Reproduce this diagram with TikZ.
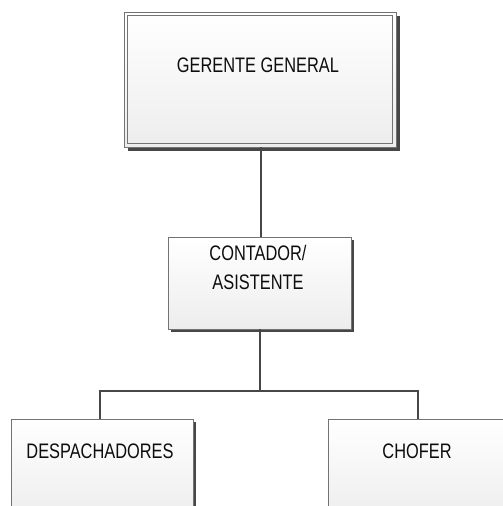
\documentclass[tikz,border=0pt]{standalone}
\usepackage{fontspec}
\setmainfont{Liberation Sans}[FakeStretch=0.78]
\tikzset{
  x=1pt, y=-1pt,
  orgbox/.style={draw=black!55, line width=1pt, top color=white, bottom color=black!7,
    anchor=north west, inner sep=0pt, outer sep=0pt},
  shade/.style={fill=black!72, draw=none},
  lbl/.style={font=\fontsize{21}{29}\selectfont, text=black!95, align=center, inner sep=0pt},
  link/.style={draw=black!72, line width=2.6pt}
}
\begin{document}
\begin{tikzpicture}
\useasboundingbox (0,0) rectangle (503,506);
\clip (0,0) rectangle (503,506);

% Gerente general: double frame with drop shadow
\fill[shade] (128,16) rectangle (400,151);
\node[orgbox, minimum width=272pt, minimum height=135pt] (gg) at (124,12) {};
\draw[black!55, line width=0.8pt] (127.5,15.5) rectangle (392.5,143.5);
\node[lbl] (ggt) at (258,65) {GERENTE GENERAL};

% Contador / asistente
\fill[shade] (171,240) rectangle (354,332);
\node[orgbox, minimum width=183pt, minimum height=92pt] (ca) at (168,237) {};
\node[lbl] (cat) at (258,267.5) {CONTADOR/\\ASISTENTE};

% Subordinates (boxes run past the lower edge)
\fill[shade] (14,422) rectangle (196,520);
\node[orgbox, minimum width=182pt, minimum height=100pt] (dp) at (11,419) {};
\node[lbl] (dpt) at (100,451) {DESPACHADORES};

\fill[shade] (331,422) rectangle (520,520);
\node[orgbox, minimum width=190pt, minimum height=100pt] (ch) at (328,419) {};
\node[lbl] (cht) at (417,451) {CHOFER};

% Connectors
\coordinate (bar) at (260,391);
\draw[link] (gg.south -| 261,0) -- (ca.north -| 261,0);
\draw[link] (ca.south -| bar) -- (bar);
\draw[link] (bar) -| (dp.north -| 100,0);
\draw[link] (bar) -| (ch.north -| 418,0);
\end{tikzpicture}
\end{document}
